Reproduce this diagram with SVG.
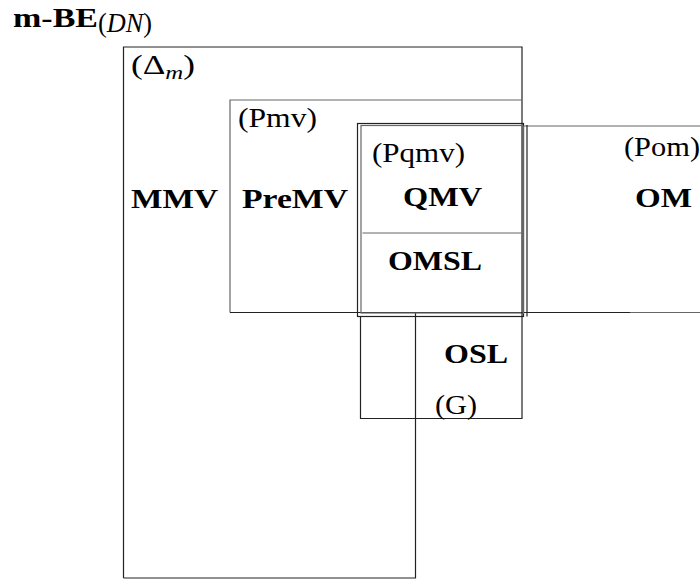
<svg xmlns="http://www.w3.org/2000/svg" width="700" height="582" viewBox="0 0 700 582">
<style>
.ln{fill:none;stroke:#222;stroke-width:1.2}
.lg{fill:none;stroke:#666;stroke-width:1.2}
.t{font-family:"Liberation Serif","Times New Roman",serif;font-size:27px;fill:#000}
.b{font-family:"Liberation Serif","Times New Roman",serif;font-size:28px;font-weight:bold;fill:#000}
.i{font-style:italic}
</style>
<rect width="700" height="582" fill="#fff"/>
<g id="title">
<text class="b" x="13" y="27" font-size="22" textLength="85" lengthAdjust="spacingAndGlyphs">m-BE</text>
<text class="t" x="98" y="32" font-size="18" textLength="54" lengthAdjust="spacingAndGlyphs">(<tspan class="i">DN</tspan>)</text>
</g>
<g id="connectors">
<path class="ln" d="M123.5,578 V47 H522 V312"/>
<path class="ln" d="M123.5,578 H415.5 V312.5"/>
<path class="lg" d="M230,312.5 V100 H522"/>
<path class="ln" d="M230,312.5 H630"/>
<path class="lg" d="M630,312.5 H700"/>
<rect class="ln" x="357.5" y="123.5" width="166" height="193"/>
<rect class="lg" x="361" y="125.5" width="161.5" height="187.5"/>
<line class="lg" x1="362.5" y1="233" x2="522" y2="233"/>
<path class="lg" d="M523.5,126 H705"/>
<path class="ln" d="M527,125 V316.5"/>
<path class="lg" d="M523.5,126 V314"/>
<path class="ln" d="M360.5,316.5 V418.5 H522 V312"/>
</g>
<g id="Delta_m">
<text class="t" x="131" y="74" textLength="64" lengthAdjust="spacingAndGlyphs">(Δ<tspan font-size="19" class="i" dy="5">m</tspan><tspan dy="-5">)</tspan></text>
<text class="b" x="131" y="208" textLength="87" lengthAdjust="spacingAndGlyphs">MMV</text>
</g>
<g id="Pmv">
<text class="t" x="238" y="127" textLength="79" lengthAdjust="spacingAndGlyphs">(Pmv)</text>
<text class="b" x="242" y="208" textLength="106" lengthAdjust="spacingAndGlyphs">PreMV</text>
</g>
<g id="Pqmv">
<text class="t" x="372" y="162" textLength="93" lengthAdjust="spacingAndGlyphs">(Pqmv)</text>
<text class="b" x="403" y="206" textLength="79" lengthAdjust="spacingAndGlyphs">QMV</text>
<text class="b" x="388" y="270" textLength="94" lengthAdjust="spacingAndGlyphs">OMSL</text>
</g>
<g id="Pom">
<text class="t" x="624" y="156" textLength="76" lengthAdjust="spacingAndGlyphs">(Pom)</text>
<text class="b" x="635" y="207" textLength="57" lengthAdjust="spacingAndGlyphs">OM</text>
</g>
<g id="G">
<text class="b" x="444" y="363" textLength="64" lengthAdjust="spacingAndGlyphs">OSL</text>
<text class="t" x="435" y="414" textLength="42" lengthAdjust="spacingAndGlyphs">(G)</text>
</g>
</svg>
